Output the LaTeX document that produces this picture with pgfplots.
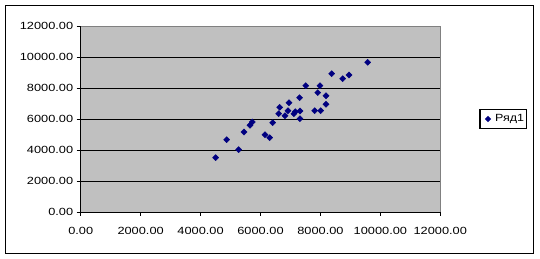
\documentclass[border=0pt]{standalone}
\usepackage{fontspec}
\setmainfont{Liberation Sans}
\usepackage{pgfplots}
\pgfplotsset{compat=1.18}
\usepackage{graphicx}
\definecolor{plotbg}{HTML}{C0C0C0}
\definecolor{navy}{HTML}{000080}
\begin{document}
\begin{tikzpicture}[x=1pt,y=1pt]
\path[fill=white] (0,0) rectangle (540,259);
\draw[black,line width=0.9pt] (5.3,6) rectangle (533.3,253.7);
\begin{axis}[
  at={(80.7pt,47pt)}, anchor=south west,
  scale only axis, width=359.6pt, height=186pt,
  xmin=0, xmax=12000, ymin=0, ymax=12000,
  scaled ticks=false,
  xtick={0,2000,...,12000}, ytick={0,2000,...,12000},
  axis background/.style={fill=plotbg},
  axis x line*=bottom, axis y line*=left,
  axis line style={black, line width=0.8pt},
  tick align=outside, major tick length=4pt,
  tick style={black, line width=0.8pt},
  ymajorgrids, grid style={black, line width=0.8pt},
  /pgf/number format/assume math mode=true,
  tick label style={font=\fontsize{10.4}{12}\selectfont, text=black},
  xticklabel style={yshift=-8pt},
  xticklabel={\scalebox{1.23}[1]{\pgfmathprintnumber[fixed,fixed zerofill,precision=2,1000 sep={}]{\tick}}},
  yticklabel={\scalebox{1.23}[1]{\pgfmathprintnumber[fixed,fixed zerofill,precision=2,1000 sep={}]{\tick}}},
  legend style={at={(1.1085,0.5)}, anchor=west, draw=black, line width=1.2pt, fill=white,
    font=\fontsize{10.4}{12}\selectfont, inner xsep=1pt, inner ysep=3.5pt,
    nodes={inner sep=1.5pt}},
  legend image code/.code={\path (0pt,0pt) (11.5pt,0pt); \draw[#1, mark size=1.6pt] plot coordinates {(6.5pt,0pt)};},
  clip=false,
]
\addplot[only marks, mark=square*, mark size=2.15pt, mark options={rotate=45, fill=navy, draw=navy}, color=navy]
coordinates {
(7510,8150) (7985,8150) (7910,7700) (8185,7500) (7305,7375) (6950,7050)
(6640,6755) (8185,6950) (6917,6535) (6607,6342) (6817,6213) (7117,6342)
(7161,6471) (7317,6516) (7808,6535) (8008,6535) (7317,6019) (6406,5761)
(5726,5806) (5649,5594) (5449,5161) (6150,4987) (6306,4794)
(9576,9658) (8375,8923) (8742,8600) (8952,8839)
(4871,4667) (5271,4022) (4503,3505)
};
\addlegendentry{\scalebox{1.2}[1]{Ряд1}}
\draw[gray, line width=0.8pt] (rel axis cs:0,1) -- (rel axis cs:1,1) -- (rel axis cs:1,0);
\end{axis}
\end{tikzpicture}
\end{document}
